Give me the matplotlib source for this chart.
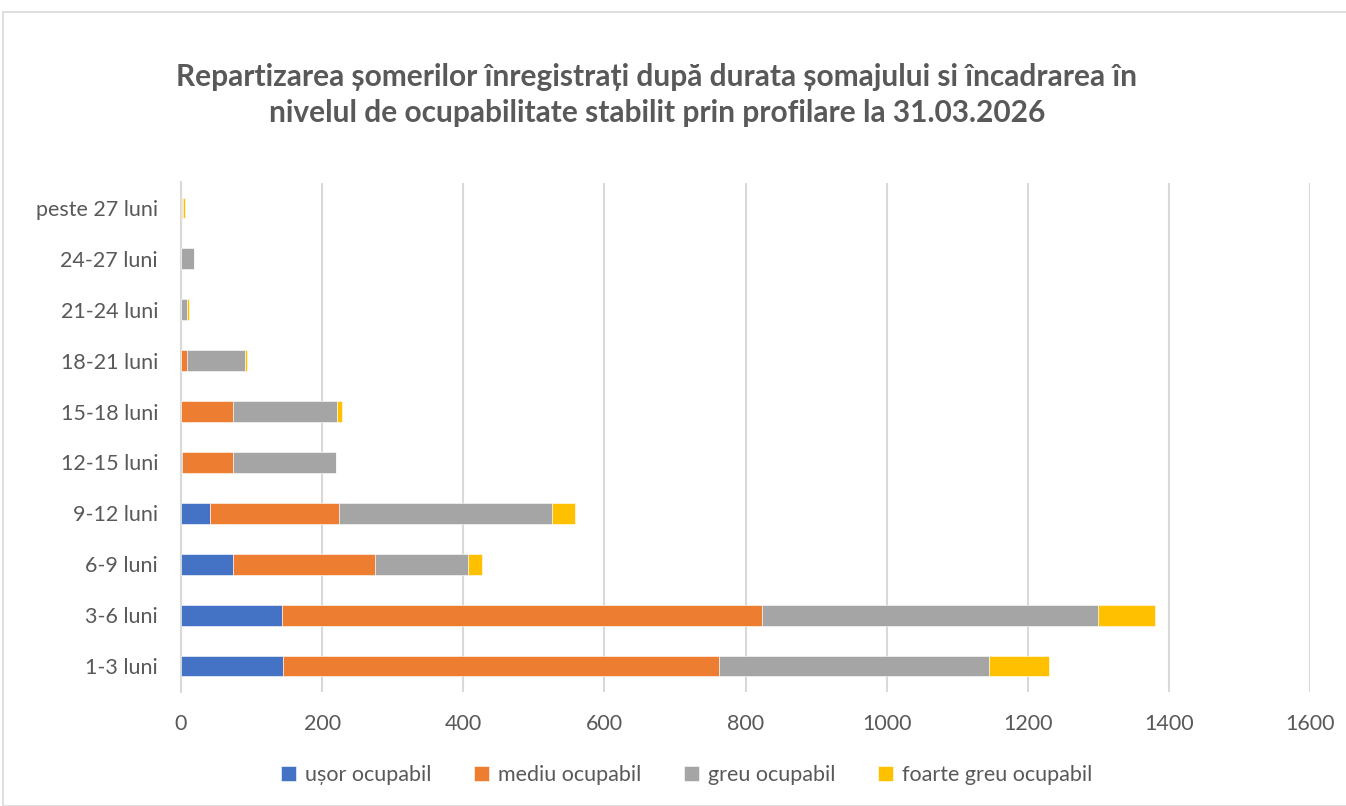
import matplotlib.pyplot as plt
from matplotlib.patches import Rectangle

# categorii (de jos in sus)
categorii = ['1-3 luni', '3-6 luni', '6-9 luni', '9-12 luni', '12-15 luni',
             '15-18 luni', '18-21 luni', '21-24 luni', '24-27 luni', 'peste 27 luni']

usor = [145, 143, 73, 41, 2, 0, 0, 0, 0, 0]
mediu = [618, 681, 202, 183, 71, 73, 8, 0, 0, 1]
greu = [382, 475, 132, 302, 146, 148, 83, 9, 18, 2]
foarte_greu = [85, 82, 20, 33, 0, 7, 2, 2, 1, 2]

serii = ['ușor ocupabil', 'mediu ocupabil', 'greu ocupabil', 'foarte greu ocupabil']
culori = ['#4472C4', '#ED7D31', '#A5A5A5', '#FFC000']
text_color = '#595959'

plt.rcParams['font.family'] = ['Lato', 'DejaVu Sans']

fig = plt.figure(figsize=(13.46, 8.06), dpi=100)
ax = fig.add_axes([181 / 1346, 1 - 691.5 / 806, (1310 - 181) / 1346, 509 / 806])

# chenarul graficului
fig.patches.append(Rectangle((3 / 1346, 0), 1.2, 1 - 12 / 806, transform=fig.transFigure,
                             fill=False, edgecolor='#D9D9D9', linewidth=1.2))

y = range(len(categorii))
stanga = [0] * len(categorii)
for valori, nume, c in zip([usor, mediu, greu, foarte_greu], serii, culori):
    ax.barh(y, valori, left=stanga, height=0.41, color=c, label=nume,
            edgecolor='white', linewidth=0.4, zorder=3)
    stanga = [a + b for a, b in zip(stanga, valori)]

ax.set_xlim(0, 1600)
ax.set_ylim(-0.5, len(categorii) - 0.5)
ax.set_xticks(range(0, 1601, 200))
ax.set_yticks(list(y))
ax.set_yticklabels(categorii)
ax.grid(axis='x', color='#D9D9D9', linewidth=1.5, zorder=0)
for s in ['top', 'right', 'bottom']:
    ax.spines[s].set_visible(False)
ax.spines['left'].set_color('#D9D9D9')
ax.spines['left'].set_linewidth(1.5)
ax.tick_params(axis='both', length=0, labelsize=15.5, colors=text_color)
ax.tick_params(axis='x', pad=16)
ax.tick_params(axis='y', pad=16.5)

fig.text(0.488, 1 - 95 / 806,
         'Repartizarea șomerilor înregistrați după durata șomajului si încadrarea în\n'
         'nivelul de ocupabilitate stabilit prin profilare la 31.03.2026',
         ha='center', va='center', fontsize=21.5, fontweight='bold', color=text_color,
         linespacing=1.35)

fig.legend(loc='center', bbox_to_anchor=(0.51, 1 - 775 / 806), ncol=4, frameon=False,
           fontsize=15.5, labelcolor=text_color, handlelength=0.7, handleheight=0.7,
           columnspacing=2.0, handletextpad=0.4)

plt.savefig('out.png', dpi=100)
